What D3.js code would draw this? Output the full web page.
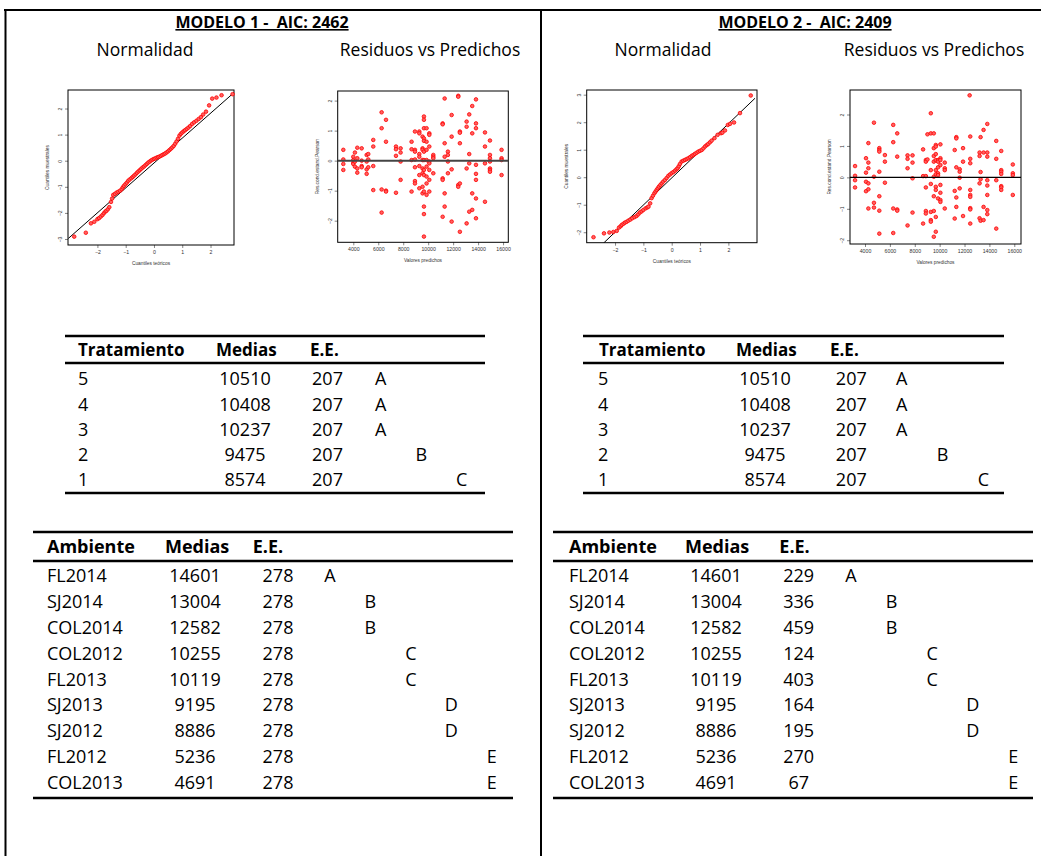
<!DOCTYPE html>
<html>
<head>
<meta charset="utf-8">
<script src="https://cdn.jsdelivr.net/npm/d3@7"></script>
<style>
  body { margin: 0; background: #fff; }
  text { font-family: "Open Sans", sans-serif; fill: #000; }
  .small { font-family: "Liberation Sans", Arial, sans-serif; fill: #333; }
</style>
</head>
<body>
<div id="chart"></div>
<script>
// ---- data ----
var modelos = ["MODELO 1 -  AIC: 2462", "MODELO 2 -  AIC: 2409"];

// QQ plots: [cuantil teorico, cuantil muestral]
var qq1 = [[-2.82,-2.91],[-2.41,-2.76],[-2.23,-2.40],[-2.11,-2.34],[-2.00,-2.24],[-1.94,-2.20],[-1.88,-2.14],[-1.82,-2.08],
  [-1.77,-2.01],[-1.72,-1.95],[-1.68,-1.92],[-1.63,-1.86],[-1.58,-1.78],[-1.52,-1.58],[-1.48,-1.45],[-1.44,-1.31],
  [-1.38,-1.27],[-1.32,-1.22],[-1.26,-1.19],[-1.20,-1.15],[-1.14,-1.09],[-1.10,-1.02],[-1.06,-0.96],[-1.01,-0.90],
  [-0.96,-0.84],[-0.91,-0.77],[-0.86,-0.72],[-0.80,-0.67],[-0.75,-0.62],[-0.70,-0.57],[-0.65,-0.52],[-0.60,-0.46],
  [-0.55,-0.41],[-0.50,-0.36],[-0.45,-0.31],[-0.40,-0.26],[-0.35,-0.22],[-0.30,-0.17],[-0.25,-0.12],[-0.20,-0.07],
  [-0.15,-0.03],[-0.10,0.01],[-0.05,0.04],[0.00,0.07],[0.05,0.09],[0.10,0.12],[0.15,0.14],[0.20,0.16],[0.25,0.19],
  [0.30,0.22],[0.35,0.25],[0.40,0.28],[0.45,0.32],[0.50,0.36],[0.55,0.41],[0.60,0.46],[0.65,0.51],[0.70,0.57],
  [0.75,0.65],[0.80,0.74],[0.85,0.84],[0.90,0.96],[0.95,1.03],[1.00,1.08],[1.05,1.13],[1.10,1.17],[1.16,1.22],
  [1.22,1.27],[1.28,1.33],[1.35,1.41],[1.42,1.47],[1.50,1.53],[1.58,1.60],[1.66,1.67],[1.74,1.77],[1.84,1.88],
  [1.95,2.12],[2.06,2.38],[2.21,2.42],[2.39,2.51],[2.78,2.55]];
var qqLinea1 = [[-3.03,-2.98],[2.84,2.62]];

var qq2 = [[-2.76,-2.18],[-2.39,-2.04],[-2.20,-2.01],[-2.06,-1.99],[-1.94,-1.95],[-1.86,-1.83],[-1.80,-1.78],[-1.76,-1.73],
  [-1.70,-1.69],[-1.65,-1.65],[-1.59,-1.62],[-1.53,-1.58],[-1.46,-1.54],[-1.39,-1.49],[-1.31,-1.45],[-1.24,-1.41],
  [-1.18,-1.35],[-1.12,-1.28],[-1.06,-1.24],[-1.00,-1.19],[-0.92,-1.13],[-0.86,-1.10],[-0.82,-1.07],[-0.76,-0.95],
  [-0.71,-0.76],[-0.66,-0.67],[-0.61,-0.58],[-0.57,-0.52],[-0.53,-0.46],[-0.49,-0.40],[-0.45,-0.34],[-0.40,-0.28],
  [-0.35,-0.22],[-0.30,-0.16],[-0.24,-0.10],[-0.18,-0.03],[-0.12,0.05],[-0.06,0.10],[0.00,0.15],[0.06,0.19],
  [0.12,0.24],[0.17,0.29],[0.21,0.33],[0.25,0.40],[0.29,0.48],[0.35,0.57],[0.41,0.60],[0.47,0.63],[0.53,0.66],
  [0.59,0.69],[0.65,0.73],[0.71,0.78],[0.77,0.81],[0.82,0.85],[0.88,0.89],[0.94,0.93],[1.00,0.96],[1.06,0.99],
  [1.12,1.05],[1.18,1.12],[1.24,1.17],[1.29,1.21],[1.35,1.27],[1.41,1.33],[1.51,1.42],[1.62,1.54],[1.74,1.60],
  [1.79,1.62],[1.88,1.70],[1.98,1.90],[2.06,1.94],[2.20,1.99],[2.41,2.33],[2.79,2.97]];
var qqLinea2 = [[-2.41,-2.40],[2.94,2.87]];

// Residuos vs predichos: valor predicho y residuos en ese valor
var res1 = [
  {x:3200, r:[0.36,0.04,-0.11,-0.31]}, {x:4000, r:[0.13,0.02,-0.07,-0.11]}, {x:4130, r:[0.27,-0.20,-0.03]},
  {x:4320, r:[0.43,-0.40,-0.26,0.08]}, {x:4670, r:[0.41,-0.18,-0.22,0.00]}, {x:5070, r:[0.19,-0.03,-0.29,-0.44]},
  {x:5200, r:[0.22,-0.22,0.04]}, {x:5600, r:[0.69,0.47,-0.18,-0.98]}, {x:6270, r:[1.61,1.08,-0.96,-1.73]},
  {x:6620, r:[1.36,0.63,-1.00,-1.03]}, {x:7420, r:[0.47,0.16,-1.07,0.38]}, {x:7790, r:[0.41,0.27,-0.03,-0.64]},
  {x:8670, r:[0.63,0.38,0.02,-1.03]}, {x:8940, r:[0.97,0.36,0.30,0.04,-0.22,-0.68,-0.76]},
  {x:9290, r:[0.97,0.91,0.22,0.13,-0.18,-0.48,-0.92]}, {x:9550, r:[0.80,0.41,0.36,0.02,-0.26,-0.42,-0.87,-1.09]},
  {x:9660, r:[1.47,1.36,1.08,0.74,0.66,0.30,0.02,-0.31,-0.48,-1.03,-1.53,-1.78,-2.53]},
  {x:9870, r:[1.08,0.63,0.36,0.02,-0.20,-0.53,-0.76,-1.14]}, {x:10090, r:[0.91,0.86,0.47,-0.03,-0.09,-0.31,-0.64,-1.03]},
  {x:10410, r:[0.19,0.13,0.08,-0.42]}, {x:11160, r:[1.24,1.21,-0.59,-0.64,-1.87]}, {x:11320, r:[2.07,0.58,0.13,-1.09,-1.53]},
  {x:11580, r:[0.30,0.19,-0.03,-0.42]}, {x:11880, r:[1.52,0.80,-0.29,-2.03]}, {x:12410, r:[2.16,2.13,-0.81,-0.87]},
  {x:12540, r:[0.97,0.93,0.58,-0.76,-2.37]}, {x:13080, r:[1.30,1.13,-0.26,-2.09]}, {x:13290, r:[1.54,0.22,-0.09,-1.70]},
  {x:13530, r:[1.82,0.91,-1.09,-1.64]}, {x:13830, r:[2.04,1.24,1.08,-0.14,-0.44,-0.64,-1.26,-1.92]},
  {x:14550, r:[0.94,0.47,-0.09,-1.37]}, {x:14950, r:[0.67,0.19,0.08,-0.03,-0.26,-0.31,-0.37]},
  {x:15880, r:[0.36,0.08,0.02,-0.48]}
];
var res2 = [
  {x:3200, r:[0.36,0.05,-0.09,-0.32]}, {x:4080, r:[0.61,0.15,-0.14,-0.44]}, {x:4270, r:[1.09,0.47,0.29,-0.19,-0.38,-0.99]},
  {x:4720, r:[1.74,0.02,-0.81,-0.96]}, {x:5150, r:[0.93,0.87,0.82,0.18,-0.60,-1.06,-1.79]}, {x:5600, r:[0.71,0.50,-0.17]},
  {x:6270, r:[1.67,1.12,-0.99,-1.77]}, {x:6590, r:[1.40,0.66,-1.02,-1.06]}, {x:7420, r:[0.70,0.59,0.29,-1.53]},
  {x:7820, r:[0.70,0.47,-0.03,-1.12]}, {x:8670, r:[0.89,0.04,-1.47]}, {x:8890, r:[0.55,0.50,0.04,-0.32,-1.07,-1.15]},
  {x:9020, r:[1.37,0.57]}, {x:9290, r:[2.04,1.40,0.23,-0.21,-1.10,-1.36,-1.41]},
  {x:9530, r:[1.40,0.93,0.68,0.50,0.02,-0.60,-1.07,-1.89]},
  {x:9690, r:[1.03,0.98,0.74,0.55,0.23,0.10,-0.30,-0.40,-1.26,-1.73]},
  {x:9870, r:[0.55,0.50,0.32,0.13,0.07,-0.67]}, {x:10060, r:[1.05,0.61,0.55,0.39,-0.24,-0.49,-0.72,-0.78]},
  {x:10410, r:[0.47,0.29,0.23,-0.99]}, {x:11210, r:[0.87,-0.43,-1.31]}, {x:11340, r:[1.28,1.24,0.32,-0.64,-0.94]},
  {x:11610, r:[0.26,0.18,-0.01,-0.35]}, {x:11880, r:[0.93,0.50,-1.23]}, {x:12410, r:[2.61]},
  {x:12460, r:[1.30,0.59,0.45,-0.40,-0.56,-0.62,-0.98,-1.02,-1.47]}, {x:13210, r:[0.79,0.68,-0.19,-1.30]},
  {x:13290, r:[1.28,0.17,-0.06,-1.38]}, {x:13530, r:[1.51,0.79,-0.94,-1.36]},
  {x:13830, r:[1.70,0.79,0.66,-0.09,-0.26,-0.56,-1.04,-1.17]}, {x:14550, r:[1.16,0.59,-0.09,-1.63]},
  {x:14950, r:[0.84,0.23,0.18,0.11,-0.28,-0.32,-0.40]}, {x:15880, r:[0.41,0.13,0.07,-0.56]}
];

// Tablas
var tratamientos = ["5", "4", "3", "2", "1"];
var tratMedias = [10510, 10408, 10237, 9475, 8574];
var tratEE = [207, 207, 207, 207, 207];
var tratLetras = ["A", "A", "A", "B", "C"];

var ambientes = ["FL2014", "SJ2014", "COL2014", "COL2012", "FL2013", "SJ2013", "SJ2012", "FL2012", "COL2013"];
var ambMedias = [14601, 13004, 12582, 10255, 10119, 9195, 8886, 5236, 4691];
var ambEE1 = [278, 278, 278, 278, 278, 278, 278, 278, 278];
var ambEE2 = [229, 336, 459, 124, 403, 164, 195, 270, 67];
var ambLetras = ["A", "B", "B", "C", "C", "D", "D", "E", "E"];

// ---- drawing ----
var W = 1041, H = 856;
var svg = d3.select("#chart").append("svg").attr("width", W).attr("height", H);

// marco
svg.append("line").attr("x1", 4).attr("x2", W).attr("y1", 10).attr("y2", 10).attr("stroke", "#000").attr("stroke-width", 2);
[5.5, 541].forEach(function (x) {
  svg.append("line").attr("x1", x).attr("x2", x).attr("y1", 9).attr("y2", H).attr("stroke", "#000").attr("stroke-width", 2);
});

// titulos
[262, 805].forEach(function (cx, i) {
  svg.append("text").attr("x", cx).attr("y", 28).attr("text-anchor", "middle")
    .style("font-weight", "bold").style("font-size", "16px").style("text-decoration", "underline")
    .style("white-space", "pre")
    .text(modelos[i]);
});
[[145, "Normalidad"], [430, "Residuos vs Predichos"], [663, "Normalidad"], [934, "Residuos vs Predichos"]].forEach(function (d) {
  svg.append("text").attr("x", d[0]).attr("y", 56).attr("text-anchor", "middle")
    .style("font-size", "17.5px").text(d[1]);
});

var clipN = 0;
function panel(box, xDom, yDom, xTicks, yTicks, xLab, yLab) {
  var x = d3.scaleLinear().domain(xDom).range([box[0], box[1]]);
  var y = d3.scaleLinear().domain(yDom).range([box[3], box[2]]);
  var g = svg.append("g");
  var id = "clip" + (clipN++);
  g.append("clipPath").attr("id", id).append("rect")
    .attr("x", box[0]).attr("y", box[2]).attr("width", box[1] - box[0]).attr("height", box[3] - box[2]);

  var ax = g.append("g").attr("transform", "translate(0," + box[3] + ")")
    .call(d3.axisBottom(x).tickValues(xTicks).tickSize(3).tickPadding(2.5).tickFormat(d3.format("d")));
  var ay = g.append("g").attr("transform", "translate(" + box[0] + ",0)")
    .call(d3.axisLeft(y).tickValues(yTicks).tickSize(3).tickPadding(2).tickFormat(d3.format("d")));
  [ax, ay].forEach(function (a) {
    a.select(".domain").remove();
    a.selectAll("line").attr("stroke", "#333").attr("stroke-width", 0.6);
    a.selectAll("text").attr("class", "small").style("font-size", "5.2px").attr("font-family", null);
  });
  ay.selectAll(".tick text").attr("text-anchor", "middle").attr("dy", 0)
    .attr("transform", "rotate(-90)").attr("x", 0).attr("y", -6);

  g.append("text").attr("class", "small").attr("x", (box[0] + box[1]) / 2).attr("y", box[3] + 20)
    .attr("text-anchor", "middle").style("font-size", "4.8px").text(xLab);
  g.append("text").attr("class", "small")
    .attr("transform", "translate(" + (box[0] - 19) + "," + ((box[2] + box[3]) / 2) + ") rotate(-90)")
    .attr("text-anchor", "middle").style("font-size", "4.8px").text(yLab);

  g.append("rect").attr("x", box[0]).attr("y", box[2]).attr("width", box[1] - box[0]).attr("height", box[3] - box[2])
    .attr("fill", "none").attr("stroke", "#000").attr("stroke-width", 1);
  return { g: g, x: x, y: y, clip: "url(#" + id + ")" };
}

function dots(p, pts) {
  p.g.append("g").selectAll("circle").data(pts).enter().append("circle")
    .attr("cx", function (d) { return p.x(d[0]); })
    .attr("cy", function (d) { return p.y(d[1]); })
    .attr("r", 1.8)
    .attr("fill", "#ff6060").attr("stroke", "#ff0000").attr("stroke-width", 0.8);
}

function flat(res) {
  var out = [];
  res.forEach(function (c) { c.r.forEach(function (v) { out.push([c.x, v]); }); });
  return out;
}

// QQ modelo 1
var p1 = panel([68, 234, 90, 245], [-3.04, 2.83], [-3.23, 2.71], [-2, -1, 0, 1, 2], [-3, -2, -1, 0, 1, 2],
  "Cuantiles teóricos", "Cuantiles muestrales");
p1.g.append("line").attr("clip-path", p1.clip)
  .attr("x1", p1.x(qqLinea1[0][0])).attr("y1", p1.y(qqLinea1[0][1]))
  .attr("x2", p1.x(qqLinea1[1][0])).attr("y2", p1.y(qqLinea1[1][1]))
  .attr("stroke", "#000").attr("stroke-width", 1);
dots(p1, qq1);

// Residuos modelo 1
var p2 = panel([337.7, 508.3, 91, 242.3], [2750, 16420], [-2.72, 2.32], d3.range(4000, 16001, 2000), [-2, -1, 0, 1, 2],
  "Valores predichos", "Res.cond.estand.Pearson");
dots(p2, flat(res1));
p2.g.append("line").attr("x1", p2.x(2750)).attr("x2", p2.x(16420)).attr("y1", p2.y(0)).attr("y2", p2.y(0))
  .attr("stroke", "#444").attr("stroke-width", 2);

// QQ modelo 2
var p3 = panel([586.7, 757, 90, 242.7], [-3.0, 3.01], [-2.38, 3.17], [-2, -1, 0, 1, 2], [-2, -1, 0, 1, 2, 3],
  "Cuantiles teóricos", "Cuantiles muestrales");
p3.g.append("line").attr("clip-path", p3.clip)
  .attr("x1", p3.x(qqLinea2[0][0])).attr("y1", p3.y(qqLinea2[0][1]))
  .attr("x2", p3.x(qqLinea2[1][0])).attr("y2", p3.y(qqLinea2[1][1]))
  .attr("stroke", "#000").attr("stroke-width", 1);
dots(p3, qq2);

// Residuos modelo 2
var p4 = panel([850, 1021, 90, 244], [2794, 16539], [-2.12, 2.78], d3.range(4000, 16001, 2000), [-2, -1, 0, 1, 2],
  "Valores predichos", "Res.cond.estand.Pearson");
dots(p4, flat(res2));
p4.g.append("line").attr("x1", p4.x(2794)).attr("x2", p4.x(16539)).attr("y1", p4.y(0)).attr("y2", p4.y(0))
  .attr("stroke", "#000").attr("stroke-width", 1.3);

// ---- tablas ----
function tabla(cfg) {
  var g = svg.append("g");
  var n = cfg.labels.length;
  var row = d3.scaleLinear().domain([0, n - 1]).range([cfg.firstRow, cfg.firstRow + cfg.step * (n - 1)]);
  var letra = d3.scalePoint().domain(cfg.letterDomain).range(cfg.letterRange);
  var fs = "18px";

  [cfg.top, cfg.headLine, cfg.bottom].forEach(function (yy) {
    g.append("line").attr("x1", cfg.x0).attr("x2", cfg.x1).attr("y1", yy).attr("y2", yy)
      .attr("stroke", "#000").attr("stroke-width", 2.5);
  });
  cfg.headers.forEach(function (h, i) {
    g.append("text").attr("x", cfg.headX[i]).attr("y", cfg.headY).attr("dy", "0.35em")
      .style("font-weight", "bold").style("font-size", cfg.headSize || fs).text(h);
  });
  cfg.labels.forEach(function (lab, i) {
    var yy = row(i);
    g.append("text").attr("x", cfg.colX[0]).attr("y", yy).attr("dy", "0.35em").style("font-size", fs).text(lab);
    g.append("text").attr("x", cfg.colX[1]).attr("y", yy).attr("dy", "0.35em").attr("text-anchor", "middle")
      .style("font-size", fs).text(cfg.medias[i]);
    g.append("text").attr("x", cfg.colX[2]).attr("y", yy).attr("dy", "0.35em").attr("text-anchor", "middle")
      .style("font-size", fs).text(cfg.ee[i]);
    g.append("text").attr("x", letra(cfg.letras[i])).attr("y", yy).attr("dy", "0.35em").attr("text-anchor", "middle")
      .style("font-size", fs).text(cfg.letras[i]);
  });
}

tabla({ x0: 65, x1: 485, top: 336, headLine: 363, bottom: 493, headY: 350, firstRow: 379, step: 25.2,
  headers: ["Tratamiento", "Medias", "E.E."], headX: [78, 216, 310], headSize: "17px",
  labels: tratamientos, medias: tratMedias, ee: tratEE, letras: tratLetras,
  colX: [78, 245, 327.5], letterDomain: ["A", "B", "C"], letterRange: [380.7, 461.7] });
tabla({ x0: 583, x1: 1004, top: 336, headLine: 363, bottom: 493, headY: 350, firstRow: 379, step: 25.2,
  headers: ["Tratamiento", "Medias", "E.E."], headX: [599, 736, 830], headSize: "17px",
  labels: tratamientos, medias: tratMedias, ee: tratEE, letras: tratLetras,
  colX: [598, 765, 851.3], letterDomain: ["A", "B", "C"], letterRange: [901.7, 983.3] });
tabla({ x0: 33, x1: 513, top: 532, headLine: 561, bottom: 798, headY: 547, firstRow: 576, step: 25.8,
  headers: ["Ambiente", "Medias", "E.E."], headX: [47, 165, 252.7],
  labels: ambientes, medias: ambMedias, ee: ambEE1, letras: ambLetras,
  colX: [47, 195, 278], letterDomain: ["A", "B", "C", "D", "E"], letterRange: [330, 491.7] });
tabla({ x0: 553, x1: 1033, top: 532, headLine: 561, bottom: 798, headY: 547, firstRow: 576, step: 25.8,
  headers: ["Ambiente", "Medias", "E.E."], headX: [569, 685, 779.3],
  labels: ambientes, medias: ambMedias, ee: ambEE2, letras: ambLetras,
  colX: [569, 716, 798.7], letterDomain: ["A", "B", "C", "D", "E"], letterRange: [851, 1013.3] });
</script>
</body>
</html>
